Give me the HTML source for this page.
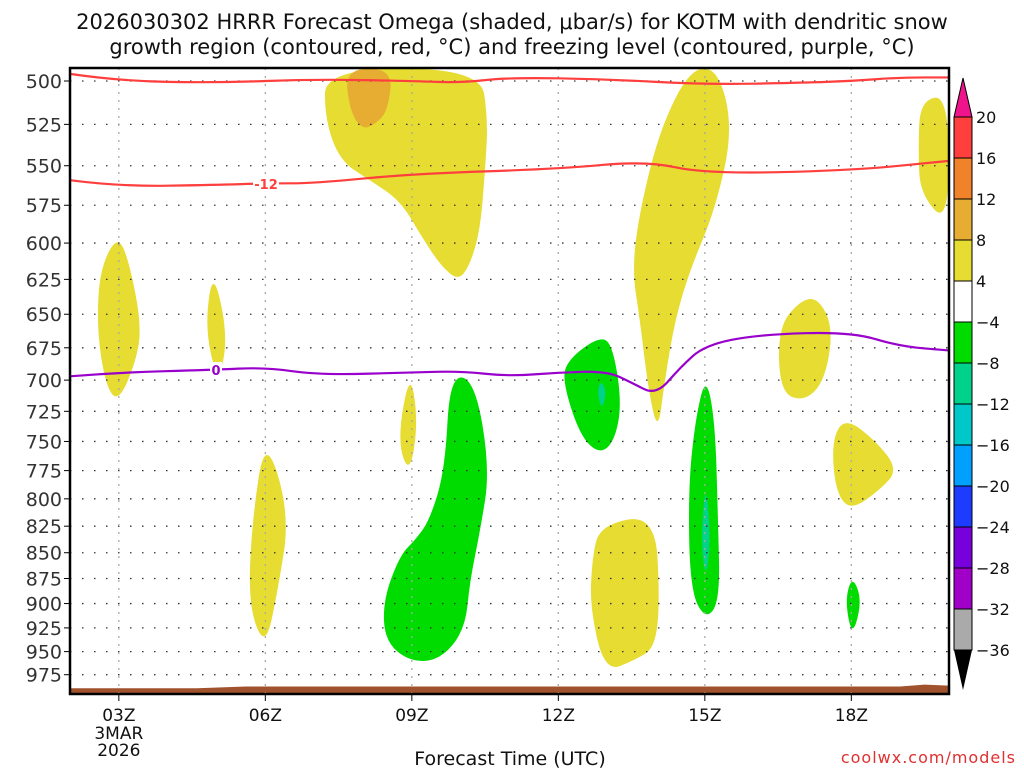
<!DOCTYPE html>
<html><head><meta charset="utf-8"><style>
body{margin:0;background:#fff;width:1024px;height:768px;overflow:hidden;font-family:"Liberation Sans",sans-serif}
svg text{font-family:"DejaVu Sans","Liberation Sans",sans-serif}
</style></head><body>
<svg id="chart" width="1024" height="768" xmlns="http://www.w3.org/2000/svg">
<text x="512" y="29" font-size="21" text-anchor="middle" fill="#111">2026030302 HRRR Forecast Omega (shaded, μbar/s) for KOTM with dendritic snow</text>
<text x="512" y="54" font-size="21" text-anchor="middle" fill="#111">growth region (contoured, red, °C) and freezing level (contoured, purple, °C)</text>
<g id="fills"></g>
<g id="grid"></g>
<g id="lines"></g>
<g id="axes"></g>
<g id="cbar"></g>
<text x="510" y="765" font-size="19" text-anchor="middle" fill="#111">Forecast Time (UTC)</text>
<text x="1016" y="763" font-size="16" text-anchor="end" fill="#e03030" letter-spacing="1">coolwx.com/models</text>
</svg>
<script>
const pTicks=[500,525,550,575,600,625,650,675,700,725,750,775,800,825,850,875,900,925,950,975];
const hourTicks=[3,6,9,12,15,18];
const hourLabels=["03Z","06Z","09Z","12Z","15Z","18Z"];
const cbLevels=[20,16,12,8,4,-4,-8,-12,-16,-20,-24,-28,-32,-36];
const cbColors=["#ff3e3e","#f0822a","#e6ad32","#e6dc32","#ffffff","#00dc00","#00d28c","#00c8c8","#00a0ff","#1e3cff","#7800dc","#a000c8","#aaaaaa"];
const yel="#e6dc32",org="#e6ad32",grn="#00dc00",teal="#00d28c";
const shapes=[
 {c:yel,h:[7.22,10.4,10.56,10.5,10.4,10.19,9.95,9.58,9.17,8.76,8.14,7.53,7.22],p:[493,493,522,553,591,615,626,615,594,572,559,547,522]},
 {c:org,h:[7.63,8.61,8.51,8.25,7.98,7.73],p:[493,493,517,525,528,517]},
 {c:yel,h:[2.98,3.23,3.47,3.33,2.98,2.72,2.55,2.61],p:[594,615,660,688,718,703,660,618]},
 {c:yel,h:[4.93,5.24,5.03,4.76],p:[617,667,703,660]},
 {c:yel,h:[6.0,6.5,6.26,6.0,5.65,5.73],p:[744,814,886,947,902,819]},
 {c:yel,h:[8.96,9.13,8.96,8.7],p:[692,733,779,750]},
 {c:yel,h:[14.7,15.27,15.58,15.21,14.7,14.39,14.18,14.04,13.84,13.67,13.51,13.67,14.08],p:[493,493,528,578,618,654,700,743,707,654,618,578,528]},
 {c:yel,h:[19.41,20,20,19.41,19.37],p:[511,508,588,568,540]},
 {c:yel,h:[16.95,17.32,17.63,17.46,17.05,16.54,16.5],p:[640,638,660,700,717,710,660]},
 {c:yel,h:[17.87,18.49,18.96,18.59,17.97,17.67,17.6],p:[730,749,774,792,811,792,749]},
 {c:yel,h:[12.85,13.98,14.08,13.98,13.57,12.96,12.65,12.69],p:[824,814,897,946,959,972,906,856]},
 {c:grn,h:[9.78,10.29,10.6,10.4,10.19,10.09,9.58,8.96,8.45,8.41,8.76,9.07,9.37,9.68],p:[696,700,774,829,877,927,959,961,939,897,852,838,819,774]},
 {c:grn,h:[12.81,13.1,13.3,13.16,12.85,12.44,12.08,12.2],p:[667,671,717,749,761,745,700,684]},
 {c:teal,h:[12.85,12.99,12.9,12.8],p:[700,708,724,712]},
 {c:grn,h:[15.02,15.21,15.27,15.31,15.02,14.7,14.66,14.8],p:[696,733,819,897,917,887,792,733]},
 {c:teal,h:[15.02,15.12,15.02,14.92],p:[783,838,877,838]},
 {c:grn,h:[18.02,18.22,18.02,17.87],p:[872,897,935,897]}
];
const snowHours=[2,3,5,7,9,10,11,13,15,17,18,19,20];
const snowTop=[496,500,501,499,500,501,498,499,502,501,500,498,498];
const snowBotHours=[2,3,5,6,7,9,12,13.8,15,18,20];
const snowBot=[559,563,562,561,561,555,552,547,555,553,547];
const frzHours=[2,3,4.9,6,7.1,9,10,11,12,13,13.5,14,14.5,15,16.1,18,19,20];
const frzP=[697,694,692,690,696,694,693,697,694,693,702,712,690,673,665,663,674,677];
const groundHours=[2,4.6,5.6,19,19.5,20];
const groundP=[990,990,988,988,986,987];
const X0=70,X1=949,Y0=68,Y1=694;
const xs=h=>X0+(h-2)*(X1-X0)/18;
const ys=p=>81+889*Math.log(p/500);
const NS="http://www.w3.org/2000/svg";
function mk(tag,attrs,parent){const e=document.createElementNS(NS,tag);for(const k in attrs)e.setAttribute(k,attrs[k]);parent.appendChild(e);return e;}
const fills=document.getElementById('fills'),grid=document.getElementById('grid'),lines=document.getElementById('lines'),axes=document.getElementById('axes'),cb=document.getElementById('cbar');
shapes.forEach((s,i)=>{
 const P=s.h.map((h,j)=>[xs(h),ys(s.p[j])]);const n=P.length;
 let d='';for(let j=0;j<=n;j++){const a=P[j%n],b=P[(j+1)%n];const m=[(a[0]+b[0])/2,(a[1]+b[1])/2];d+=j==0?'M'+m[0]+' '+m[1]:' Q'+a[0]+' '+a[1]+' '+m[0]+' '+m[1];}
 const e=mk('path',{d:d,fill:s.c},fills);
 
 
});
const gp=groundHours.map((h,i)=>xs(h)+','+ys(groundP[i])).join(' ');
const g=mk('polygon',{points:X0+','+Y1+' '+gp+' '+X1+','+Y1,fill:'#a0522d'},fills);


pTicks.forEach(p=>{const y=ys(p);
 const l=mk('line',{x1:X0,x2:X1,y1:y,y2:y,stroke:'#333','stroke-width':1.3,'stroke-dasharray':'1.5 10.5'},grid);
 
 
 mk('line',{x1:X0-6,x2:X0,y1:y,y2:y,stroke:'#000'},axes);
 const t=mk('text',{x:X0-8,y:y+7,'font-size':19,'text-anchor':'end',fill:'#333'},axes);t.textContent=p;
 
 
});
hourTicks.forEach((h,i)=>{const x=xs(h);
 mk('line',{x1:x,x2:x,y1:Y0,y2:Y1,stroke:'#aaa','stroke-width':1.3,'stroke-dasharray':'2 6'},grid);
 mk('line',{x1:x,x2:x,y1:Y1,y2:Y1+7,stroke:'#000'},axes);
 const t=mk('text',{x:x,y:721,'font-size':17,'text-anchor':'middle',fill:'#111'},axes);t.textContent=hourLabels[i];
 
 
});
[["3MAR",739],["2026",756]].forEach(a=>{const t=mk('text',{x:xs(3),y:a[1],'font-size':17,'text-anchor':'middle',fill:'#111'},axes);t.textContent=a[0];
 
 });
function curve(hs,ps,color,name){
 const P=hs.map((h,i)=>[xs(h),ys(ps[i])]);let d='M'+P[0];
 for(let i=1;i<P.length-1;i++){const m=[(P[i][0]+P[i+1][0])/2,(P[i][1]+P[i+1][1])/2];d+=' Q'+P[i]+' '+m;}
 d+=' L'+P[P.length-1];
 const e=mk('path',{d:d,fill:'none',stroke:color,'stroke-width':2.2},lines);
 
 
}
curve(snowHours,snowTop,'#ff3e3e','dgz-contour-top');
curve(snowBotHours,snowBot,'#ff3e3e','dgz-contour-minus12');
curve(frzHours,frzP,'#9900cc','freezing-level-0c');
mk('rect',{x:253,y:176,width:26,height:15,fill:'#fff'},lines);
let t=mk('text',{x:266,y:189,'font-size':13,'font-weight':'bold','text-anchor':'middle',fill:'#ff3e3e'},lines);t.textContent='-12';


mk('rect',{x:210,y:362,width:12,height:15,fill:'#fff'},lines);
t=mk('text',{x:216,y:375,'font-size':13,'font-weight':'bold','text-anchor':'middle',fill:'#9900cc'},lines);t.textContent='0';


mk('rect',{x:X0,y:Y0,width:X1-X0,height:Y1-Y0,fill:'none',stroke:'#000','stroke-width':2.5},axes);
const CX=954,CW=18,CT=117,CS=41;
mk('polygon',{points:CX+','+CT+' '+(CX+CW)+','+CT+' '+(CX+CW/2)+',78',fill:'#f0148c',stroke:'#000'},cb);
cbColors.forEach((c,i)=>{const r=mk('rect',{x:CX,y:CT+i*CS,width:CW,height:CS,fill:c,stroke:'#000','stroke-width':1},cb);
 
 });
const CB=CT+cbColors.length*CS;
mk('polygon',{points:CX+','+CB+' '+(CX+CW)+','+CB+' '+(CX+CW/2)+',690',fill:'#000'},cb);
cbLevels.forEach((v,i)=>{const tt=mk('text',{x:CX+CW+4,y:CT+i*CS+6,'font-size':16,fill:'#111'},cb);tt.textContent=(v<0?'\u2212'+(-v):v);
 
 });
</script>
</body></html>
